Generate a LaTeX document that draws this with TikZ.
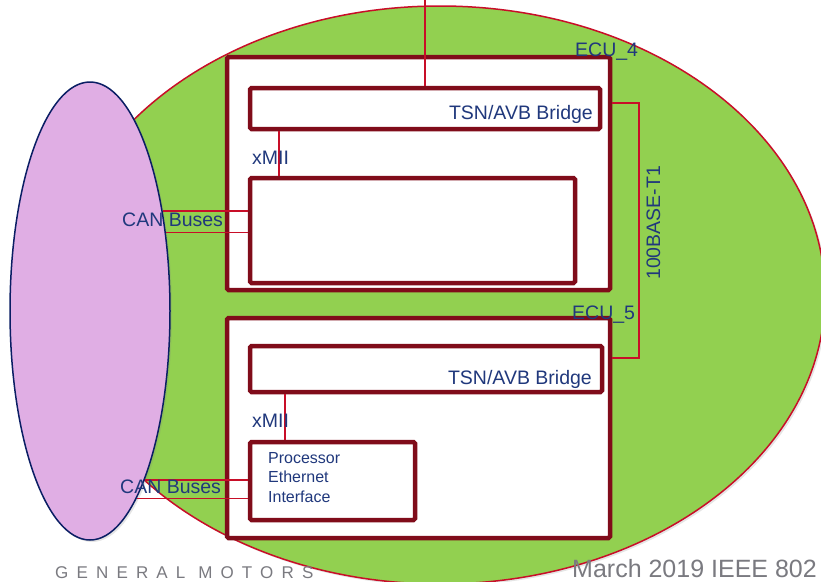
\documentclass[tikz,border=0pt]{standalone}
\usepackage{fontspec}
\setmainfont{Liberation Sans}
\usetikzlibrary{shapes, positioning, shadows}

\definecolor{vehiclegreen}{RGB}{146,208,80}
\definecolor{wirered}{RGB}{200,14,40}
\definecolor{ecured}{RGB}{128,12,26}
\definecolor{labelblue}{RGB}{32,56,124}
\definecolor{canpurple}{RGB}{224,174,228}
\definecolor{cannavy}{RGB}{10,30,100}
\definecolor{footgray}{RGB}{122,122,128}

\begin{document}
\begin{tikzpicture}[x=1pt, y=-1pt,
    box/.style={draw=ecured, line width=4.5pt, fill=white, rectangle, rounded corners=1.5pt, inner sep=0pt},
    link/.style={draw=wirered, line width=1.6pt},
    lbl/.style={text=labelblue, inner sep=0pt, font=\fontsize{19.5}{22}\selectfont},
    soft/.style={drop shadow={shadow xshift=2pt, shadow yshift=-2pt, opacity=0.2}}]
    \useasboundingbox (0,0) rectangle (821,581);
    \fill[white] (0,0) rectangle (821,581);
    % zones
    \draw[soft, fill=vehiclegreen, draw=wirered, line width=1.5pt] (440,295) ellipse [x radius=385pt, y radius=289pt];
    \node[soft, draw=cannavy, fill=canpurple, line width=1.5pt, ellipse, inner sep=0pt,
          minimum width=160pt, minimum height=458pt] (canbus) at (90,311) {};
    % ECUs
    \node[box, minimum width=383pt, minimum height=233pt] (ecu4) at (418.5,173.5) {};
    \node[box, minimum width=350pt, minimum height=41pt] (bridge4) at (425,108.5) {};
    \node[box, minimum width=325pt, minimum height=105pt] (host4) at (412.5,230.5) {};
    \node[box, minimum width=383pt, minimum height=220pt] (ecu5) at (418.5,428) {};
    \node[box, minimum width=352pt, minimum height=46pt] (bridge5) at (426,369) {};
    \node[box, minimum width=165pt, minimum height=78pt] (pei5) at (332.5,481) {};
    % wires
    \coordinate (uplink) at (425,0);
    \draw[link] (uplink) -- (bridge4.north);
    \draw[link] ([xshift=-146pt]bridge4.south) -- ([xshift=-133.5pt]host4.north);
    \draw[link] ([xshift=-141pt]bridge5.south) -- ([xshift=-47.5pt]pei5.north);
    \draw[link] (canbus.54) -- (canbus.54 -| host4.west);
    \draw[link] (canbus.46) -- (canbus.46 -| host4.west);
    \draw[link] (canbus.-72) -- (canbus.-72 -| pei5.west);
    \draw[link] (canbus.-76) -- (canbus.-76 -| pei5.west);
    \draw[link] (ecu4.east |- 0,103) -- ++(27,0) |- (ecu5.east |- 0,358);
    % labels
    \node[lbl, anchor=base west] (ecu4lbl) at (575,56) {ECU\_4};
    \node[lbl, anchor=base west] (ecu5lbl) at (572,319) {ECU\_5};
    \node[lbl, anchor=base east] (bridge4lbl) at (593,119) {TSN/AVB Bridge};
    \node[lbl, anchor=base east] (bridge5lbl) at (592,384) {TSN/AVB Bridge};
    \node[lbl, anchor=base west] (xmii4lbl) at (252,164) {xMII};
    \node[lbl, anchor=base west] (xmii5lbl) at (252,427) {xMII};
    \node[lbl, anchor=base west] (can4lbl) at (122,226) {CAN Buses};
    \node[lbl, anchor=base west] (can5lbl) at (120,493) {CAN Buses};
    \node[lbl, anchor=base west, rotate=90] (phylbl) at (660,280) {100BASE-T1};
    \node[lbl, anchor=north west, align=left, font=\fontsize{16}{19.5}\selectfont] (pei5lbl) at (268,452)
        {Processor\\Ethernet\\Interface};
    % footer
    \node[anchor=base west, inner sep=0pt, text=footgray,
          font=\fontsize{17}{19}\selectfont\addfontfeatures{LetterSpace=48}] (gmlbl) at (55,578) {GENERAL MOTORS};
    \node[anchor=base west, inner sep=0pt, text=footgray, font=\fontsize{25}{28}\selectfont] (datelbl) at (572,577) {March 2019 IEEE 802};
\end{tikzpicture}
\end{document}
